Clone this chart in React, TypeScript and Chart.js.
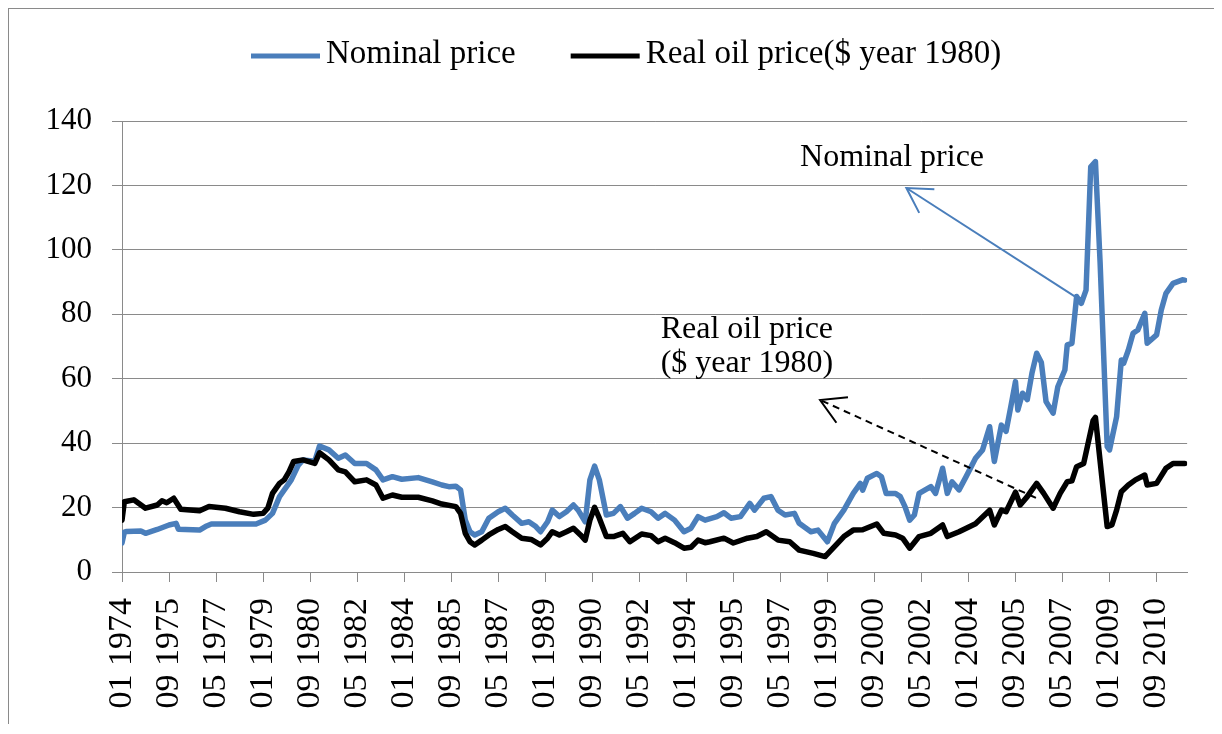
import { useEffect, useRef } from 'react';
import { Chart, registerables } from 'chart.js';

Chart.register(...registerables);

// ---- axis / labels ----
const TICK_LABELS = [
  '01 1974', '09 1975', '05 1977', '01 1979', '09 1980', '05 1982', '01 1984', '09 1985',
  '05 1987', '01 1989', '09 1990', '05 1992', '01 1994', '09 1995', '05 1997', '01 1999',
  '09 2000', '05 2002', '01 2004', '09 2005', '05 2007', '01 2009', '09 2010',
];
const TICK_STEP_MONTHS = 20;
const X_MAX_MONTH = 453;
const Y_MIN = 0;
const Y_MAX = 140;
const Y_STEP = 20;

const SERIES_LABELS = ['Nominal price', 'Real oil price($ year 1980)'];

// ---- series (month index from Jan 1974, value in $) ----
const NOMINAL_MONTHS = [
  0, 1, 2, 8, 10, 15, 20, 23, 24, 33, 36, 38, 57, 61, 64, 67, 70, 72, 75, 77, 82, 84, 88, 92, 95,
  99, 104, 108, 111, 115, 119, 126, 132, 136, 139, 142, 144, 146, 148, 150, 153, 156, 160, 163,
  166, 170, 173, 176, 178, 181, 183, 186, 189, 192, 194, 197, 199, 201, 203, 206, 209, 212, 215,
  218, 221, 225, 228, 231, 235, 239, 242, 245, 248, 253, 256, 259, 263, 267, 269, 273, 276, 279,
  282, 286, 288, 293, 296, 300, 303, 307, 311, 314, 315, 317, 321, 323, 325, 329, 331, 333, 335,
  337, 339, 344, 346, 349, 351, 353, 356, 359, 363, 366, 369, 371, 374, 376, 378, 380, 381, 383,
  385, 387, 389, 391, 393, 396, 398, 401, 402, 404, 406, 408, 410, 412, 414, 416, 419, 420, 423,
  425, 426, 428, 430, 432, 435, 436, 440, 442, 444, 447, 451, 452,
];
const NOMINAL_VALUES = [
  9.0, 12.4, 12.6, 12.7, 12.0, 13.2, 14.6, 15.1, 13.3, 13.0, 14.3, 14.9, 14.9, 16.1, 18.2, 23.4,
  26.5, 28.6, 33.2, 34.8, 34.4, 39.1, 37.9, 35.3, 36.3, 33.7, 33.7, 31.7, 28.6, 29.6, 28.8, 29.3,
  28.0, 27.0, 26.5, 26.6, 25.5, 16.1, 12.5, 11.5, 12.5, 16.7, 18.7, 19.8, 17.7, 15.1, 15.6, 14.1,
  12.5, 15.6, 19.2, 17.2, 18.7, 20.8, 19.2, 15.6, 28.6, 32.9, 28.6, 17.7, 18.2, 20.3, 16.7, 18.2,
  19.8, 18.7, 16.7, 18.2, 16.1, 12.5, 13.6, 17.2, 16.1, 17.2, 18.4, 16.7, 17.2, 21.3, 19.2, 22.9,
  23.4, 19.2, 17.7, 18.2, 15.1, 12.5, 13.0, 9.4, 15.1, 19.2, 24.4, 27.5, 25.4, 29.1, 30.6, 29.6,
  24.4, 24.4, 23.4, 20.3, 16.1, 17.7, 24.4, 26.5, 24.4, 32.2, 24.4, 28.0, 25.5, 29.6, 35.3, 37.9,
  45.1, 34.3, 45.6, 43.7, 51.3, 59.1, 50.3, 55.5, 53.5, 61.7, 67.9, 65.0, 52.9, 49.3, 57.5, 62.7,
  70.5, 71.0, 85.5, 83.4, 87.5, 125.8, 127.4, 95.8, 38.9, 37.9, 48.2, 65.8, 64.8, 68.9, 74.1, 75.1,
  80.3, 71.0, 73.6, 81.3, 86.5, 89.6, 90.7, 90.6,
];

const REAL_MONTHS = [
  0, 1, 5, 10, 15, 17, 19, 22, 25, 33, 37, 44, 50, 56, 60, 62, 64, 67, 69, 71, 73, 77, 82, 84, 88,
  92, 95, 99, 104, 108, 111, 115, 119, 126, 132, 136, 142, 144, 146, 148, 150, 153, 156, 160, 163,
  166, 170, 174, 178, 181, 183, 186, 189, 192, 195, 197, 199, 201, 203, 206, 209, 213, 216, 221,
  225, 228, 231, 235, 239, 242, 245, 248, 250, 256, 260, 266, 270, 274, 279, 284, 288, 294, 299,
  303, 307, 311, 315, 321, 324, 329, 332, 335, 339, 344, 349, 351, 356, 363, 369, 371, 374, 376,
  380, 382, 385, 387, 389, 392, 396, 399, 402, 404, 406, 409, 413, 414, 417, 419, 421, 423, 425,
  428, 431, 435, 436, 440, 444, 447, 452,
];
const REAL_VALUES = [
  16.1, 21.8, 22.4, 19.8, 20.8, 22.1, 21.5, 22.9, 19.5, 19.0, 20.3, 19.8, 18.7, 17.9, 18.2, 19.8,
  24.4, 27.5, 28.6, 31.1, 34.3, 34.8, 33.7, 37.0, 34.8, 31.7, 31.1, 28.0, 28.6, 27.0, 22.9, 23.9,
  23.2, 23.2, 22.1, 21.1, 20.3, 18.2, 12.0, 9.4, 8.4, 9.9, 11.5, 13.2, 14.1, 12.5, 10.5, 10.1, 8.4,
  10.5, 12.5, 11.5, 12.5, 13.6, 11.5, 9.9, 16.1, 20.1, 16.7, 11.0, 11.0, 12.0, 9.4, 11.8, 11.3, 9.4,
  10.5, 9.1, 7.4, 7.7, 9.9, 9.1, 9.4, 10.5, 9.0, 10.5, 11.0, 12.5, 9.9, 9.4, 6.8, 5.8, 4.8, 7.9,
  11.0, 13.0, 13.1, 14.9, 12.0, 11.5, 10.5, 7.4, 11.0, 12.0, 14.6, 11.0, 12.5, 15.0, 19.2, 14.6,
  19.2, 18.7, 24.8, 20.8, 23.4, 25.5, 27.5, 24.4, 19.8, 24.4, 28.0, 28.3, 32.7, 33.7, 47.0, 48.0,
  27.5, 14.1, 14.6, 19.2, 24.9, 27.0, 28.6, 30.1, 27.0, 27.5, 32.2, 33.7, 33.7,
];

// ---- annotations (data coordinates: month, value) ----
const NOMINAL_NOTE = { text: 'Nominal price', m: 288.4, v: 126.0 };
const NOMINAL_ARROW = { fromM: 407.5, fromV: 84.5, toM: 333.6, toV: 119.2 };
const REAL_NOTE_LINES = ['Real oil price', '($ year 1980)'];
const REAL_NOTE = { m: 229.1, v: [72.6, 62.1] };
const REAL_ARROW = { fromM: 388.7, fromV: 23.0, toM: 296.9, toV: 53.4 };

const BLUE = '#4a7ebb';
const BLACK = '#000000';
const GRID = '#8a8a8a';
const FONT = '"Liberation Serif", "Times New Roman", serif';

function drawArrow(ctx: CanvasRenderingContext2D, x1: number, y1: number, x2: number, y2: number, color: string, dash: number[]) {
  ctx.save();
  ctx.strokeStyle = color;
  ctx.lineWidth = 2;
  ctx.lineCap = 'butt';
  ctx.setLineDash(dash);
  ctx.beginPath();
  ctx.moveTo(x1, y1);
  ctx.lineTo(x2, y2);
  ctx.stroke();
  ctx.setLineDash([]);
  const ang = Math.atan2(y1 - y2, x1 - x2);
  const len = 28;
  const spread = Math.PI / 6;
  ctx.beginPath();
  ctx.moveTo(x2 + len * Math.cos(ang + spread), y2 + len * Math.sin(ang + spread));
  ctx.lineTo(x2, y2);
  ctx.lineTo(x2 + len * Math.cos(ang - spread), y2 + len * Math.sin(ang - spread));
  ctx.stroke();
  ctx.restore();
}

const legendPlugin = {
  id: 'excelLegend',
  afterDraw(chart: any) {
    const ctx: CanvasRenderingContext2D = chart.ctx;
    ctx.save();
    ctx.font = `33px ${FONT}`;
    ctx.textBaseline = 'alphabetic';
    ctx.textAlign = 'left';
    let x = 242;
    const lineY = 47;
    const textY = 54;
    chart.data.datasets.forEach((ds: any, i: number) => {
      ctx.fillStyle = ds.borderColor;
      ctx.fillRect(x, lineY - 2.5, 69, 5);
      x += 69 + 6;
      ctx.fillStyle = '#000';
      ctx.fillText(ds.label, x, textY);
      x += ctx.measureText(ds.label).width + (i === 0 ? 55 : 0);
    });
    ctx.restore();
  },
};

const annotationPlugin = {
  id: 'arrowNotes',
  afterDatasetsDraw(chart: any) {
    const ctx: CanvasRenderingContext2D = chart.ctx;
    const xs = chart.scales.x;
    const ys = chart.scales.y;
    const px = (m: number) => xs.getPixelForValue(m);
    const py = (v: number) => ys.getPixelForValue(v);
    ctx.save();
    ctx.font = `32px ${FONT}`;
    ctx.fillStyle = '#000';
    ctx.textAlign = 'left';
    ctx.textBaseline = 'alphabetic';
    ctx.fillText(NOMINAL_NOTE.text, px(NOMINAL_NOTE.m), py(NOMINAL_NOTE.v));
    REAL_NOTE_LINES.forEach((t, i) => ctx.fillText(t, px(REAL_NOTE.m), py(REAL_NOTE.v[i])));
    ctx.restore();
    drawArrow(ctx, px(NOMINAL_ARROW.fromM), py(NOMINAL_ARROW.fromV), px(NOMINAL_ARROW.toM), py(NOMINAL_ARROW.toV), BLUE, []);
    drawArrow(ctx, px(REAL_ARROW.fromM), py(REAL_ARROW.fromV), px(REAL_ARROW.toM), py(REAL_ARROW.toV), BLACK, [7, 5]);
  },
};

export default function App() {
  const canvasRef = useRef<HTMLCanvasElement | null>(null);

  useEffect(() => {
    if (!canvasRef.current) return;
    const nominal = NOMINAL_MONTHS.map((m, i) => ({ x: m, y: NOMINAL_VALUES[i] }));
    const real = REAL_MONTHS.map((m, i) => ({ x: m, y: REAL_VALUES[i] }));
    const chart = new Chart(canvasRef.current, {
      type: 'line',
      data: {
        datasets: [
          {
            label: SERIES_LABELS[0],
            data: nominal,
            borderColor: BLUE,
            backgroundColor: BLUE,
            borderWidth: 5.5,
            pointRadius: 0,
            tension: 0,
            borderJoinStyle: 'round',
            borderCapStyle: 'round',
            order: 2,
          },
          {
            label: SERIES_LABELS[1],
            data: real,
            borderColor: BLACK,
            backgroundColor: BLACK,
            borderWidth: 5.5,
            pointRadius: 0,
            tension: 0,
            borderJoinStyle: 'round',
            borderCapStyle: 'round',
            order: 1,
          },
        ],
      },
      options: {
        animation: false,
        responsive: true,
        maintainAspectRatio: false,
        layout: { padding: { top: 112, right: 22, left: 0, bottom: 0 } },
        plugins: {
          legend: { display: false },
          tooltip: { enabled: false },
          title: { display: false },
        },
        scales: {
          x: {
            type: 'linear',
            min: 0,
            max: X_MAX_MONTH,
            afterFit: (scale: any) => { scale.height = 152; },
            afterBuildTicks: (scale: any) => {
              scale.ticks = TICK_LABELS.map((_, i) => ({ value: i * TICK_STEP_MONTHS }));
            },
            grid: {
              drawOnChartArea: false,
              drawTicks: true,
              tickLength: 10,
              color: GRID,
              lineWidth: 1,
            },
            border: { display: true, color: GRID, width: 1 },
            ticks: {
              autoSkip: false,
              minRotation: 90,
              maxRotation: 90,
              padding: 16,
              color: '#000',
              font: { family: FONT, size: 34 },
              callback: (value: any) => TICK_LABELS[Math.round(Number(value) / TICK_STEP_MONTHS)] ?? '',
            },
          },
          y: {
            min: Y_MIN,
            max: Y_MAX,
            afterFit: (scale: any) => { scale.width = 113; },
            grid: {
              drawOnChartArea: true,
              drawTicks: true,
              tickLength: 10,
              color: GRID,
              lineWidth: 1,
            },
            border: { display: true, color: GRID, width: 1 },
            ticks: {
              stepSize: Y_STEP,
              padding: 20,
              color: '#000',
              font: { family: FONT, size: 31 },
            },
          },
        },
      },
      plugins: [legendPlugin, annotationPlugin],
    } as any);
    return () => chart.destroy();
  }, []);

  return (
    <div
      style={{
        width: 1207,
        height: 718,
        marginLeft: -1,
        marginTop: -2,
        borderTop: '3px solid #8a8a8a',
        borderLeft: '2px solid #8a8a8a',
        boxSizing: 'border-box',
        background: '#fff',
      }}
    >
      <div style={{ position: 'relative', width: 1205, height: 715 }}>
        <canvas ref={canvasRef} />
      </div>
    </div>
  );
}
